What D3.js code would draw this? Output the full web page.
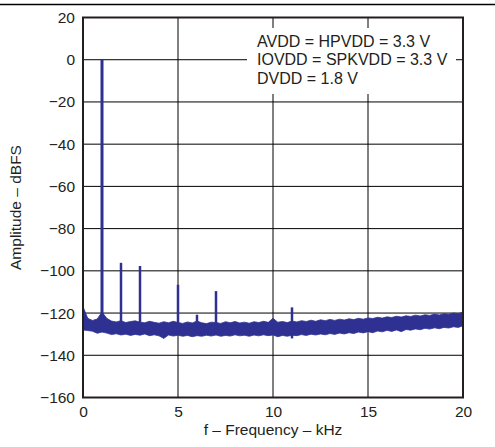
<!DOCTYPE html>
<html>
<head>
<meta charset="utf-8">
<script src="https://cdn.jsdelivr.net/npm/d3@7"></script>
<style>
    body { margin: 0; background: #fff; }
    svg { display: block; font-family: "Liberation Sans", Arial, Helvetica, sans-serif; }
</style>
</head>
<body>
<svg id="chart" width="495" height="447"></svg>
<script>
// x tick values (kHz) and y tick values (dBFS)
const xTicks = [0, 5, 10, 15, 20];
const yTicks = [20, 0, -20, -40, -60, -80, -100, -120, -140, -160];

// noise floor envelope, every 0.25 kHz
const floorKHz = [
    0, 0.25, 0.5, 0.75, 1, 1.25, 1.5, 1.75, 2, 2.25, 2.5, 2.75, 3, 3.25, 3.5, 3.75,
    4, 4.25, 4.5, 4.75, 5, 5.25, 5.5, 5.75, 6, 6.25, 6.5, 6.75, 7, 7.25, 7.5, 7.75,
    8, 8.25, 8.5, 8.75, 9, 9.25, 9.5, 9.75, 10, 10.25, 10.5, 10.75, 11, 11.25, 11.5, 11.75,
    12, 12.25, 12.5, 12.75, 13, 13.25, 13.5, 13.75, 14, 14.25, 14.5, 14.75, 15, 15.25, 15.5, 15.75,
    16, 16.25, 16.5, 16.75, 17, 17.25, 17.5, 17.75, 18, 18.25, 18.5, 18.75, 19, 19.25, 19.5, 19.75, 20
];
const floorTop = [
    -117, -122.5, -123.5, -122.8, -119.5, -122.5, -123.8, -124.2, -123.6, -124.5, -124.0, -123.7, -124.3, -124.6, -123.9, -124.4,
    -124.8, -124.1, -124.6, -123.9, -124.5, -124.9, -124.2, -124.7, -123.8, -124.6, -125.0, -124.3, -124.5, -124.9, -124.1, -124.6,
    -124.0, -124.7, -124.3, -124.8, -124.1, -124.5, -123.9, -124.4, -122.5, -124.3, -124.0, -124.5, -123.8, -124.2, -123.6, -124.0,
    -123.4, -123.9, -123.2, -123.6, -123.0, -123.5, -122.9, -123.3, -122.7, -123.1, -122.5, -122.9, -122.3, -122.6, -122.0, -122.4,
    -121.8, -122.1, -121.5, -121.9, -121.3, -121.6, -121.0, -121.4, -120.8, -121.1, -120.5, -120.9, -120.3, -120.6, -120.0, -120.3, -119.5
];
const floorBottom = [
    -128.0, -128.3, -128.6, -129.6, -129.0, -129.5, -130.2, -129.8, -130.4, -130.0, -130.6, -130.1, -130.5, -129.9, -130.7, -130.3,
    -130.8, -132.0, -130.4, -130.9, -130.5, -131.0, -130.6, -131.2, -130.7, -131.0, -130.5, -130.9, -130.4, -131.0, -130.6, -130.9,
    -130.3, -130.8, -130.5, -131.0, -130.4, -130.8, -130.3, -130.7, -130.4, -131.2, -130.6, -131.0, -130.5, -130.7, -130.2, -130.6,
    -130.0, -130.4, -129.9, -130.3, -129.7, -130.1, -129.5, -129.9, -129.3, -129.7, -129.0, -129.4, -128.8, -129.3, -128.5, -128.9,
    -128.2, -128.7, -128.0, -128.8, -127.8, -128.1, -127.5, -127.9, -127.2, -127.6, -127.0, -127.4, -126.8, -127.1, -126.5, -126.8, -126.0
];

// tones and harmonics
const spikeKHz = [1, 2, 3, 5, 6, 7, 11];
const spikePeak = [0, -96.2, -97.7, -106.6, -120.8, -109.6, -117.3];
const spikeBase = [-128, -129, -129, -129.5, -129.5, -129.5, -132];

const notes = ["AVDD = HPVDD = 3.3 V", "IOVDD = SPKVDD = 3.3 V", "DVDD = 1.8 V"];

const traceColor = "#2e3192";
const inkColor = "#231f20";

const margins = { left: 83, right: 32, top: 17.5, bottom: 49.5 };
const width = 495;
const height = 447;

const svg = d3.select("#chart");

const scaleX = d3.scaleLinear()
    .domain([0, 20])
    .range([margins.left, width - margins.right]);

const scaleY = d3.scaleLinear()
    .domain([-160, 20])
    .range([height - margins.bottom, margins.top]);

// page rule at the very top
svg.append("line")
    .attr("x1", 0).attr("x2", width)
    .attr("y1", 4.5).attr("y2", 4.5)
    .attr("stroke", "#000")
    .attr("stroke-width", 1.5);

// grid
svg.append("g")
    .selectAll("line")
    .data(xTicks.slice(1, -1))
    .enter()
    .append("line")
    .attr("x1", d => scaleX(d)).attr("x2", d => scaleX(d))
    .attr("y1", scaleY(20)).attr("y2", scaleY(-160))
    .attr("stroke", "#000")
    .attr("stroke-width", 1);

svg.append("g")
    .selectAll("line")
    .data(yTicks.slice(1, -1))
    .enter()
    .append("line")
    .attr("x1", scaleX(0)).attr("x2", scaleX(20))
    .attr("y1", d => scaleY(d)).attr("y2", d => scaleY(d))
    .attr("stroke", "#000")
    .attr("stroke-width", 1);

// white box behind the supply note
svg.append("rect")
    .attr("x", 247)
    .attr("y", 28)
    .attr("width", 209)
    .attr("height", 66)
    .attr("fill", "#fff");

svg.append("g")
    .selectAll("text")
    .data(notes)
    .enter()
    .append("text")
    .attr("x", 257)
    .attr("y", (d, i) => 46.7 + i * 18.7)
    .attr("font-size", "16px")
    .attr("fill", inkColor)
    .text(d => d);

// noise floor band
const floorData = floorKHz.map((f, i) => ({ f: f, top: floorTop[i], bottom: floorBottom[i] }));

const band = d3.area()
    .x(d => scaleX(d.f))
    .y0(d => scaleY(d.bottom))
    .y1(d => scaleY(d.top));

svg.append("path")
    .datum(floorData)
    .attr("d", band)
    .attr("fill", traceColor)
    .attr("stroke", traceColor)
    .attr("stroke-width", 0.8)
    .attr("stroke-linejoin", "miter");

// spikes
svg.append("g")
    .selectAll("line")
    .data(spikeKHz)
    .enter()
    .append("line")
    .attr("x1", d => scaleX(d)).attr("x2", d => scaleX(d))
    .attr("y1", (d, i) => scaleY(spikeBase[i]))
    .attr("y2", (d, i) => scaleY(spikePeak[i]))
    .attr("stroke", traceColor)
    .attr("stroke-width", (d, i) => i === 0 ? 3 : 2.5);

// frame
svg.append("rect")
    .attr("x", scaleX(0))
    .attr("y", scaleY(20))
    .attr("width", scaleX(20) - scaleX(0))
    .attr("height", scaleY(-160) - scaleY(20))
    .attr("fill", "none")
    .attr("stroke", inkColor)
    .attr("stroke-width", 2);

// axes
const xAxis = d3.axisBottom(scaleX)
    .tickValues(xTicks)
    .tickSize(0)
    .tickPadding(8);

const yAxis = d3.axisLeft(scaleY)
    .tickValues(yTicks)
    .tickSize(0)
    .tickPadding(8)
    .tickFormat(d => d < 0 ? "\u2212" + Math.abs(d) : d);

const gx = svg.append("g")
    .attr("transform", `translate(0, ${scaleY(-160)})`)
    .call(xAxis);

const gy = svg.append("g")
    .attr("transform", `translate(${scaleX(0)}, 0)`)
    .call(yAxis);

[gx, gy].forEach(g => {
    g.select(".domain").remove();
    g.selectAll("text")
        .attr("font-family", "'Liberation Sans', Arial, sans-serif")
        .attr("font-size", "15.5px")
        .attr("fill", inkColor);
});

// axis titles
svg.append("text")
    .attr("x", (scaleX(0) + scaleX(20)) / 2)
    .attr("y", 434.5)
    .attr("text-anchor", "middle")
    .attr("font-size", "15.5px")
    .attr("fill", inkColor)
    .text("f \u2013 Frequency \u2013 kHz");

svg.append("text")
    .attr("transform", `translate(20.5, ${(scaleY(20) + scaleY(-160)) / 2}) rotate(-90)`)
    .attr("text-anchor", "middle")
    .attr("font-size", "15.5px")
    .attr("fill", inkColor)
    .text("Amplitude \u2013 dBFS");
</script>
</body>
</html>
